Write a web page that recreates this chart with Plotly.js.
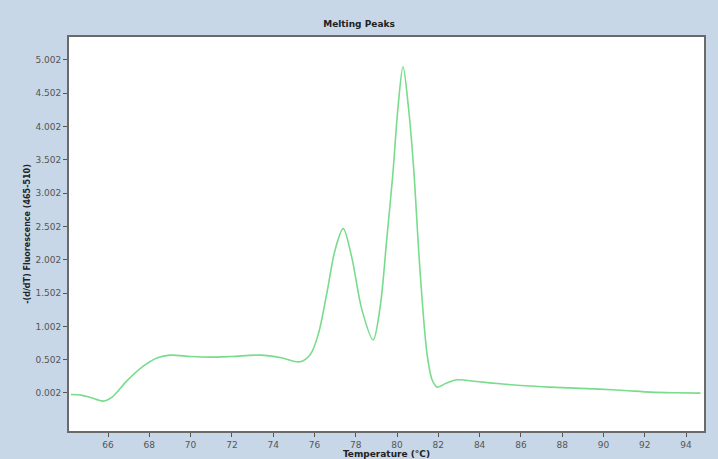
<!DOCTYPE html>
<html>
<head>
<meta charset="utf-8">
<script src="https://cdn.plot.ly/plotly-3.0.1.min.js"></script>
<style>html,body{margin:0;padding:0;background:#c7d7e7;}#chart{width:718px;height:459px;}</style>
</head>
<body>
<div id="chart"></div>
<script>
var temperature = [64.2, 64.7, 65.2, 65.76, 66.2, 66.9, 67.6, 68.4, 69.0, 70.0, 70.9, 72.0, 73.4, 74.4, 75.3, 75.8, 76.2, 76.6, 77.0, 77.39, 77.8, 78.3, 78.84, 79.18, 79.5, 79.8, 80.05, 80.29, 80.55, 80.8, 81.1, 81.45, 81.7, 81.94, 82.4, 82.9, 83.97, 84.99, 86.2, 87.4, 88.6, 89.8, 91.0, 92.3, 93.5, 94.7];
var fluorescence = [-0.02, -0.03, -0.07, -0.12, -0.06, 0.18, 0.38, 0.53, 0.57, 0.55, 0.54, 0.55, 0.57, 0.53, 0.47, 0.58, 0.9, 1.5, 2.15, 2.47, 2.05, 1.25, 0.8, 1.29, 2.3, 3.3, 4.3, 4.9, 4.3, 3.4, 1.9, 0.6, 0.2, 0.09, 0.15, 0.2, 0.17, 0.14, 0.11, 0.09, 0.075, 0.06, 0.04, 0.015, 0.005, 0.0];
var xTicks = [66, 68, 70, 72, 74, 76, 78, 80, 82, 84, 86, 88, 90, 92, 94];
var yTickVals = [0.002, 0.502, 1.002, 1.502, 2.002, 2.502, 3.002, 3.502, 4.002, 4.502, 5.002];
var yTickText = ["0.002", "0.502", "1.002", "1.502", "2.002", "2.502", "3.002", "3.502", "4.002", "4.502", "5.002"];

var trace = {
  x: temperature, y: fluorescence, type: 'scatter', mode: 'lines',
  line: {color: '#78dc8c', width: 1.6, shape: 'spline', smoothing: 0.9},
  hoverinfo: 'skip'
};
var layout = {
  width: 718, height: 459,
  paper_bgcolor: '#c7d7e7', plot_bgcolor: '#ffffff',
  margin: {l: 69, r: 14, t: 37, b: 28},
  showlegend: false,
  title: {text: '<b>Melting Peaks</b>', x: 0.5, xanchor: 'center', y: 0.948, yanchor: 'middle',
          font: {family: 'DejaVu Sans', size: 9, color: '#222'}},
  xaxis: {
    range: [64.11, 94.87], tickvals: xTicks, ticktext: xTicks.map(String),
    ticks: 'outside', ticklen: 4, tickcolor: '#555', showgrid: false, zeroline: false,
    showline: true, linecolor: '#6a6a6a', linewidth: 2, mirror: true,
    tickfont: {family: 'DejaVu Sans', size: 9, color: '#555'},
    title: {text: '<b>Temperature (°C)</b>', standoff: 2, font: {family: 'DejaVu Sans', size: 9, color: '#222'}}
  },
  yaxis: {
    range: [-0.569, 5.347], tickvals: yTickVals, ticktext: yTickText,
    ticks: 'outside', ticklen: 4, tickcolor: '#555', showgrid: false, zeroline: false,
    showline: true, linecolor: '#6a6a6a', linewidth: 2, mirror: true,
    tickfont: {family: 'DejaVu Sans', size: 9, color: '#555'},
    title: {text: '<b>-(d/dT) Fluorescence (465-510)</b>', standoff: 4, font: {family: 'DejaVu Sans', size: 8, color: '#222'}}
  }
};
Plotly.newPlot('chart', [trace], layout, {displayModeBar: false, staticPlot: true});
</script>
</body>
</html>
